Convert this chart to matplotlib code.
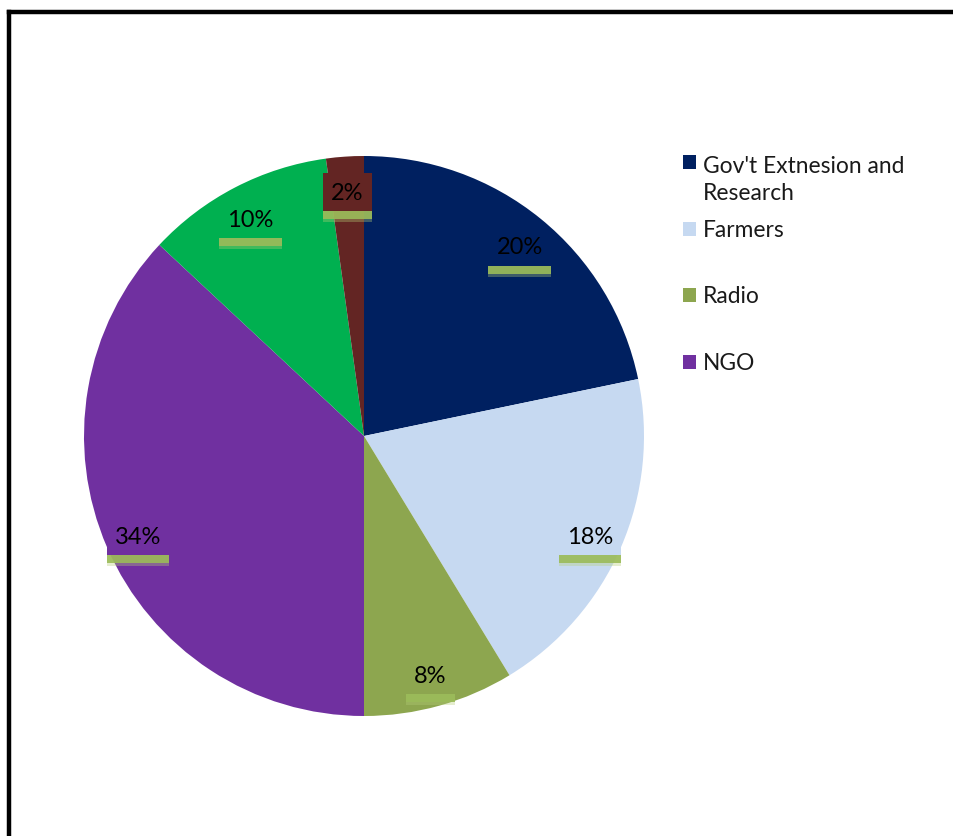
import matplotlib
matplotlib.use("Agg")
import matplotlib.pyplot as plt
import matplotlib.patheffects as pe
from matplotlib.patches import Rectangle
from matplotlib.lines import Line2D

plt.rcParams['font.family'] = ['Lato', 'DejaVu Sans']

# slice values (shown as %), clockwise from top
sources = ["Gov't Extnesion and\nResearch", "Farmers", "Radio", "NGO", "Other 1", "Other 2"]
values = [20, 18, 8, 34, 10, 2]
colors = ["#002060", "#C6D9F1", "#8DA64F", "#7030A0", "#00B050", "#632523"]
legend_labels = sources[:4]

W, H = 954, 837
fig = plt.figure(figsize=(W / 100, H / 100), dpi=100)
fig.patch.set_facecolor("white")

ax = fig.add_axes([84 / W, (H - 717) / H, 560 / W, 560 / H])
total = sum(values)
wedges, _, pcts = ax.pie(values, colors=colors, startangle=90, counterclock=False,
                         radius=1.0, wedgeprops=dict(linewidth=0),
                         autopct=lambda p: "%d%%" % round(p * total / 100),
                         pctdistance=0.88, textprops=dict(fontsize=17, color="black"))
ax.set_xlim(-1, 1)
ax.set_ylim(-1, 1)
ax.set_aspect("equal")
ax.axis("off")

for t, c in zip(pcts, colors):
    t.set_va("center_baseline")
    t.set_bbox(dict(boxstyle="square,pad=0.35", facecolor=c, edgecolor="none"))
    t.get_bbox_patch().set_path_effects([
        pe.SimplePatchShadow(offset=(0, -8), shadow_rgbFace="#B5CE78", alpha=0.35),
        pe.SimplePatchShadow(offset=(0, -6), shadow_rgbFace="#9BBB59", alpha=0.9),
        pe.Normal()])

# legend (only first four entries visible)
leg_y = [163, 229.5, 295.5, 362.5]
for lab, c, y in zip(legend_labels, colors, leg_y):
    fig.patches.append(Rectangle((683 / W, (H - y - 7) / H), 13 / W, 14 / H,
                                 transform=fig.transFigure, facecolor=c, edgecolor="none"))
    base = y + 7.5 + 30 * lab.count("\n")
    fig.text(703 / W, (H - base) / H, lab, fontsize=16.4, va="baseline", ha="left",
             linespacing=1.4, color="#1a1a1a")

# frame lines (left and top)
fig.add_artist(Line2D([9 / W, 9 / W], [0, (H - 12.5) / H], color="black", lw=3.2,
                      transform=fig.transFigure, solid_capstyle="projecting"))
fig.add_artist(Line2D([9 / W, 1], [(H - 12.5) / H, (H - 12.5) / H], color="black", lw=3.2,
                      transform=fig.transFigure, solid_capstyle="projecting"))

fig.savefig("out.png", dpi=100)
